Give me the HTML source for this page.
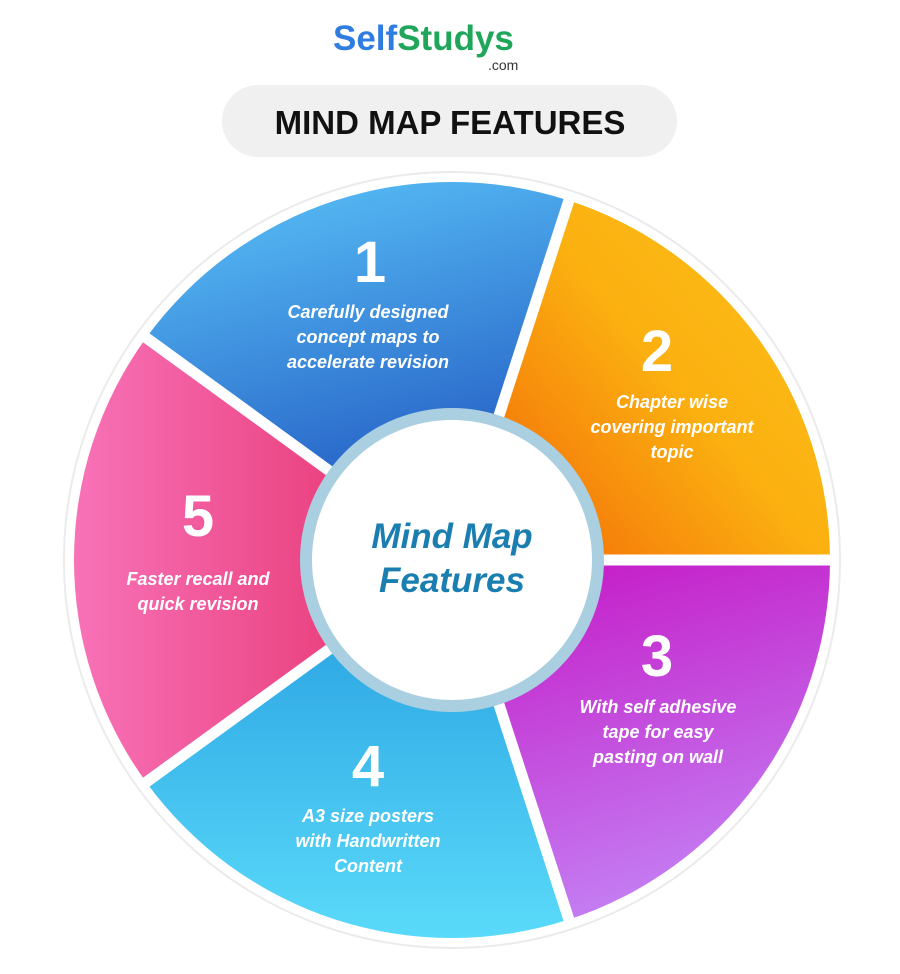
<!DOCTYPE html>
<html><head><meta charset="utf-8"><style>
html,body{margin:0;padding:0;background:#fff;width:900px;height:974px;overflow:hidden}
svg{display:block}
</style></head><body>
<svg width="900" height="974" viewBox="0 0 900 974" xmlns="http://www.w3.org/2000/svg" font-family="Liberation Sans, sans-serif">
<defs>
<linearGradient id="g1" x1="0" y1="0" x2="0.3" y2="1"><stop offset="0" stop-color="#5cc6fa"/><stop offset="1" stop-color="#1f55c0"/></linearGradient>
<linearGradient id="g2" x1="1" y1="0" x2="0" y2="0.8"><stop offset="0" stop-color="#fcc21c"/><stop offset="0.5" stop-color="#fbb010"/><stop offset="1" stop-color="#f36a08"/></linearGradient>
<linearGradient id="g3" x1="0" y1="0" x2="0.3" y2="1"><stop offset="0" stop-color="#c514c4"/><stop offset="1" stop-color="#c47cf2"/></linearGradient>
<linearGradient id="g4" x1="0" y1="0" x2="0" y2="1"><stop offset="0" stop-color="#239ade"/><stop offset="1" stop-color="#5adafa"/></linearGradient>
<linearGradient id="g5" x1="0" y1="0" x2="1" y2="0"><stop offset="0" stop-color="#f872b8"/><stop offset="1" stop-color="#e42c66"/></linearGradient>
</defs>
<text x="333" y="50" font-size="35" font-weight="bold"><tspan fill="#2f7de1">Self</tspan><tspan fill="#1fa65a">Studys</tspan></text>
<text x="488" y="70" font-size="14" fill="#333">.com</text>
<rect x="222" y="85" width="455" height="72" rx="36" fill="#f0f0f0"/>
<text x="450" y="134" font-size="33" font-weight="bold" text-anchor="middle" fill="#111">MIND MAP FEATURES</text>
<circle cx="452" cy="560" r="388" fill="#fff" stroke="#ebebeb" stroke-width="2"/>
<path d="M452 560 L146.2 337.8 A378 378 0 0 1 568.8 200.5 Z" fill="url(#g1)"/>
<path d="M452 560 L568.8 200.5 A378 378 0 0 1 830 560 Z" fill="url(#g2)"/>
<path d="M452 560 L830 560 A378 378 0 0 1 568.8 919.5 Z" fill="url(#g3)"/>
<path d="M452 560 L568.8 919.5 A378 378 0 0 1 146.2 782.2 Z" fill="url(#g4)"/>
<path d="M452 560 L146.2 782.2 A378 378 0 0 1 146.2 337.8 Z" fill="url(#g5)"/>
<g stroke="#fff" stroke-width="11">
<line x1="452" y1="560" x2="571" y2="194"/>
<line x1="452" y1="560" x2="836" y2="560"/>
<line x1="452" y1="560" x2="571" y2="926"/>
<line x1="452" y1="560" x2="141" y2="786"/>
<line x1="452" y1="560" x2="141" y2="334"/>
</g>
<circle cx="452" cy="560" r="146" fill="#fff" stroke="#a9cfe1" stroke-width="12"/>
<text x="452" y="548" font-size="35" font-weight="bold" font-style="italic" text-anchor="middle" fill="#1b7eb0">Mind Map</text>
<text x="452" y="592" font-size="35" font-weight="bold" font-style="italic" text-anchor="middle" fill="#1b7eb0">Features</text>
<g fill="#fff" font-weight="bold" text-anchor="middle">
<text x="370" y="282" font-size="58">1</text>
<text x="657" y="371" font-size="58">2</text>
<text x="657" y="676" font-size="58">3</text>
<text x="368" y="786" font-size="58">4</text>
<text x="198" y="536" font-size="58">5</text>
<g font-size="18" font-style="italic">
<text x="368" y="318">Carefully designed</text>
<text x="368" y="343">concept maps to</text>
<text x="368" y="368">accelerate revision</text>
<text x="672" y="408">Chapter wise</text>
<text x="672" y="433">covering important</text>
<text x="672" y="458">topic</text>
<text x="658" y="713">With self adhesive</text>
<text x="658" y="738">tape for easy</text>
<text x="658" y="763">pasting on wall</text>
<text x="368" y="822">A3 size posters</text>
<text x="368" y="847">with Handwritten</text>
<text x="368" y="872">Content</text>
<text x="198" y="585">Faster recall and</text>
<text x="198" y="610">quick revision</text>
</g>
</g>
</svg>
</body></html>
